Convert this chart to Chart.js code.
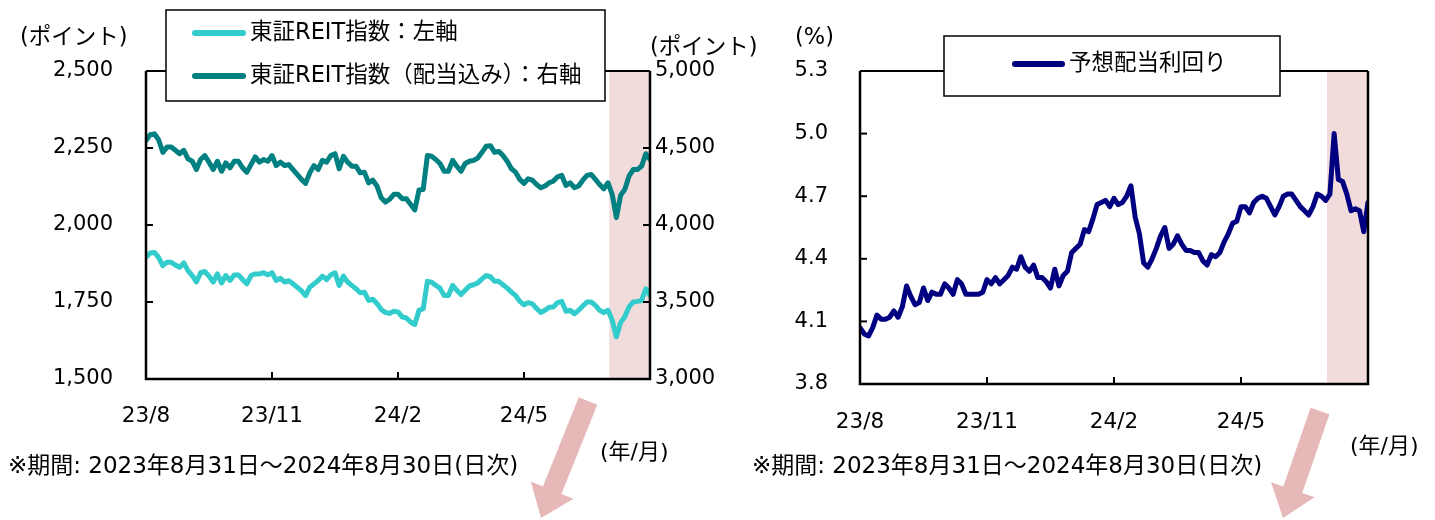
<!DOCTYPE html>
<html>
<head>
<meta charset="utf-8">
<script src="https://cdn.jsdelivr.net/npm/chart.js@4.4.1/dist/chart.umd.min.js"></script>
<style>
  body { margin: 0; background: #fff; width: 1435px; height: 520px; position: relative; overflow: hidden; }
  #left { position: absolute; left: 0; top: 0; }
  #right { position: absolute; left: 740px; top: 0; }
</style>
</head>
<body>
<canvas id="left" width="770" height="520"></canvas>
<canvas id="right" width="695" height="520"></canvas>
<script>
// x軸は2023/8/31～2024/8/30を121点で読み取り (0 = 23/8/31, 120 = 24/8/30)
const xTickPos = [0, 30, 60, 90];
const xTickLabels = ['23/8', '23/11', '24/2', '24/5'];
const shadeRange = [110.3, 120];   // 2024年8月

// 東証REIT指数（左軸）
const reitIndex = [
  1895, 1909, 1911, 1895, 1868, 1879, 1879, 1870, 1863, 1877, 1852, 1836, 1815, 1845, 1849,
  1834, 1815, 1841, 1812, 1836, 1820, 1838, 1838, 1823, 1809, 1836, 1841, 1841, 1845, 1838,
  1845, 1820, 1827, 1815, 1819, 1809, 1798, 1787, 1771, 1798, 1809, 1820, 1834, 1823, 1838,
  1845, 1804, 1834, 1815, 1804, 1793, 1780, 1782, 1755, 1759, 1745, 1726, 1716, 1713, 1720,
  1718, 1702, 1698, 1685, 1677, 1723, 1728, 1817, 1814, 1804, 1795, 1771, 1771, 1804, 1788,
  1774, 1788, 1802, 1806, 1812, 1825, 1836, 1832, 1817, 1817, 1806, 1795, 1782, 1771, 1752,
  1741, 1748, 1744, 1729, 1716, 1723, 1733, 1734, 1748, 1752, 1720, 1723, 1712, 1723, 1737,
  1750, 1750, 1739, 1723, 1716, 1723, 1691, 1637, 1683, 1702, 1734, 1750, 1752, 1755, 1793, 1771
];
// 東証REIT指数（配当込み）（右軸）
const reitTotalReturn = [
  4549, 4586, 4592, 4554, 4472, 4506, 4506, 4485, 4463, 4485, 4429, 4414, 4360, 4425, 4451,
  4408, 4360, 4414, 4349, 4403, 4371, 4414, 4414, 4371, 4343, 4392, 4442, 4408, 4425, 4414,
  4451, 4386, 4408, 4386, 4392, 4360, 4328, 4296, 4270, 4339, 4386, 4360, 4420, 4408, 4451,
  4463, 4365, 4446, 4408, 4382, 4382, 4339, 4343, 4274, 4291, 4253, 4177, 4149, 4167, 4199,
  4199, 4171, 4171, 4134, 4098, 4227, 4231, 4451, 4446, 4425, 4399, 4349, 4349, 4420, 4382,
  4349, 4399, 4414, 4420, 4435, 4472, 4511, 4515, 4472, 4478, 4451, 4414, 4365, 4343, 4296,
  4270, 4300, 4291, 4263, 4242, 4253, 4274, 4285, 4313, 4322, 4257, 4274, 4242, 4253, 4291,
  4322, 4328, 4296, 4263, 4235, 4274, 4199, 4048, 4192, 4231, 4317, 4360, 4360, 4382, 4463, 4425
];
// 予想配当利回り（%）
const dividendYield = [
  4.07, 4.04, 4.03, 4.07, 4.13, 4.11, 4.11, 4.12, 4.15, 4.12, 4.17, 4.27, 4.22, 4.18, 4.19,
  4.26, 4.20, 4.24, 4.23, 4.23, 4.28, 4.26, 4.23, 4.30, 4.28, 4.23, 4.23, 4.23, 4.23, 4.24,
  4.30, 4.28, 4.31, 4.28, 4.30, 4.32, 4.36, 4.35, 4.41, 4.36, 4.34, 4.37, 4.31, 4.31, 4.29,
  4.26, 4.35, 4.27, 4.32, 4.34, 4.43, 4.45, 4.47, 4.54, 4.53, 4.59, 4.66, 4.67, 4.68, 4.65,
  4.69, 4.66, 4.67, 4.70, 4.75, 4.60, 4.52, 4.38, 4.36, 4.40, 4.45, 4.51, 4.55, 4.45, 4.47,
  4.51, 4.47, 4.44, 4.44, 4.43, 4.43, 4.39, 4.37, 4.42, 4.41, 4.43, 4.48, 4.52, 4.57, 4.58,
  4.65, 4.65, 4.62, 4.67, 4.69, 4.70, 4.69, 4.65, 4.61, 4.65, 4.70, 4.71, 4.71, 4.68, 4.65,
  4.63, 4.61, 4.65, 4.71, 4.70, 4.68, 4.71, 5.00, 4.78, 4.77, 4.71, 4.63, 4.64, 4.63, 4.53, 4.67
];

const FONT = '"DejaVu Sans", "Noto Sans CJK JP", sans-serif';
const SHADE = 'rgb(242, 220, 219)';
const ARROW = 'rgb(230, 185, 184)';

function toPoints(arr) {
    return arr.map((v, i) => ({x: i, y: v}));
}

function line(ctx, x1, y1, x2, y2) {
    ctx.beginPath();
    ctx.moveTo(x1, y1);
    ctx.lineTo(x2, y2);
    ctx.stroke();
}

function drawArrow(ctx, x1, y1, x2, y2, shaftW, headW, headL) {
    let dx = x2 - x1, dy = y2 - y1;
    let len = Math.sqrt(dx * dx + dy * dy);
    let ux = dx / len, uy = dy / len;
    let px = -uy, py = ux;
    let bx = x2 - ux * headL, by = y2 - uy * headL;
    ctx.save();
    ctx.fillStyle = ARROW;
    ctx.beginPath();
    ctx.moveTo(x1 + px * shaftW / 2, y1 + py * shaftW / 2);
    ctx.lineTo(bx + px * shaftW / 2, by + py * shaftW / 2);
    ctx.lineTo(bx + px * headW / 2, by + py * headW / 2);
    ctx.lineTo(x2, y2);
    ctx.lineTo(bx - px * headW / 2, by - py * headW / 2);
    ctx.lineTo(bx - px * shaftW / 2, by - py * shaftW / 2);
    ctx.lineTo(x1 - px * shaftW / 2, y1 - py * shaftW / 2);
    ctx.closePath();
    ctx.fill();
    ctx.restore();
}

// 網掛け・枠線・内向き目盛・凡例・注記・矢印
function decor(cfg) {
    return {
        id: 'decor',
        beforeDatasetsDraw(chart) {
            let ctx = chart.ctx, a = chart.chartArea, x = chart.scales.x;
            let x1 = x.getPixelForValue(shadeRange[0]);
            let x2 = x.getPixelForValue(shadeRange[1]);
            ctx.save();
            ctx.fillStyle = SHADE;
            ctx.fillRect(x1, a.top, x2 - x1, a.bottom - a.top);
            ctx.restore();
        },
        afterDatasetsDraw(chart) {
            let ctx = chart.ctx, a = chart.chartArea;
            ctx.save();
            ctx.strokeStyle = '#000';
            ctx.lineWidth = 2;
            line(ctx, a.left, a.top, a.right, a.top);
            ctx.lineWidth = 2.5;
            ctx.beginPath();
            ctx.moveTo(a.left, a.top);
            ctx.lineTo(a.left, a.bottom);
            ctx.lineTo(a.right, a.bottom);
            ctx.lineTo(a.right, a.top);
            ctx.stroke();
            ctx.lineWidth = 2;
            let x = chart.scales.x;
            x.ticks.forEach(t => {
                let px = x.getPixelForValue(t.value);
                line(ctx, px, a.bottom, px, a.bottom - 7);
            });
            let y = chart.scales.y;
            y.ticks.forEach(t => {
                let py = y.getPixelForValue(t.value);
                line(ctx, a.left, py, a.left + 7, py);
            });
            if (chart.scales.y2) {
                let y2 = chart.scales.y2;
                y2.ticks.forEach(t => {
                    let py = y2.getPixelForValue(t.value);
                    line(ctx, a.right - 7, py, a.right, py);
                });
            }
            ctx.restore();
        },
        afterDraw(chart) {
            let ctx = chart.ctx;
            ctx.save();
            // 凡例
            let lg = cfg.legend;
            ctx.fillStyle = '#fff';
            ctx.fillRect(lg.x, lg.y, lg.w, lg.h);
            ctx.strokeStyle = '#000';
            ctx.lineWidth = 1.5;
            ctx.strokeRect(lg.x, lg.y, lg.w, lg.h);
            lg.items.forEach(it => {
                ctx.strokeStyle = it.color;
                ctx.lineWidth = 6;
                ctx.lineCap = 'round';
                line(ctx, lg.lx1, it.y, lg.lx2, it.y);
                ctx.fillStyle = '#000';
                ctx.font = '22.5px ' + FONT;
                ctx.textBaseline = 'middle';
                ctx.textAlign = 'left';
                ctx.fillText(it.text, lg.tx, it.y);
            });
            // 注記
            ctx.fillStyle = '#000';
            ctx.textBaseline = 'middle';
            cfg.texts.forEach(t => {
                ctx.font = t.size + 'px ' + FONT;
                ctx.textAlign = t.align || 'left';
                ctx.fillText(t.text, t.x, t.y);
            });
            ctx.restore();
            let ar = cfg.arrow;
            drawArrow(ctx, ar[0], ar[1], ar[2], ar[3], 20, 46, 30);
        }
    };
}

function xScale(h, pad) {
    return {
        type: 'linear',
        min: 0,
        max: 120,
        offset: false,
        grid: {display: false},
        border: {display: false},
        afterBuildTicks: s => { s.ticks = xTickPos.map(v => ({value: v})); },
        afterFit: s => { s.height = h; },
        ticks: {
            autoSkip: false,
            maxRotation: 0,
            padding: pad,
            color: '#000',
            font: {family: FONT, size: 21.5},
            callback: v => xTickLabels[xTickPos.indexOf(v)]
        }
    };
}

function yScale(pos, min, max, step, w, pad, fmt) {
    return {
        type: 'linear',
        position: pos,
        min: min,
        max: max,
        grid: {display: false, drawTicks: false},
        border: {display: false},
        afterFit: s => { s.width = w; },
        ticks: {
            stepSize: step,
            padding: pad,
            color: '#000',
            font: {family: FONT, size: 21},
            callback: fmt
        }
    };
}

const comma = v => v.toLocaleString('en-US');

new Chart(document.getElementById('left'), {
    type: 'line',
    data: {
        datasets: [
            {
                label: '東証REIT指数：左軸',
                data: toPoints(reitIndex),
                yAxisID: 'y',
                borderColor: 'rgb(51, 204, 204)',
                borderWidth: 5,
                pointRadius: 0,
                borderJoinStyle: 'round',
                borderCapStyle: 'round'
            },
            {
                label: '東証REIT指数（配当込み）：右軸',
                data: toPoints(reitTotalReturn),
                yAxisID: 'y2',
                borderColor: 'rgb(0, 128, 128)',
                borderWidth: 5,
                pointRadius: 0,
                borderJoinStyle: 'round',
                borderCapStyle: 'round'
            }
        ]
    },
    options: {
        responsive: false,
        animation: false,
        layout: {padding: {top: 71, left: 0, right: 0, bottom: 0}},
        plugins: {legend: {display: false}, tooltip: {enabled: false}},
        scales: {
            x: xScale(141, 17),
            y: yScale('left', 1500, 2500, 250, 146, 33, comma),
            y2: yScale('right', 3000, 5000, 500, 120, 5, comma)
        }
    },
    plugins: [decor({
        legend: {
            x: 166, y: 10, w: 439, h: 91, lx1: 195, lx2: 243, tx: 250,
            items: [
                {color: 'rgb(51, 204, 204)', y: 33, text: '東証REIT指数：左軸'},
                {color: 'rgb(0, 128, 128)', y: 76, text: '東証REIT指数（配当込み）：右軸'}
            ]
        },
        texts: [
            {text: '(ポイント)', x: 20, y: 38, size: 22.5},
            {text: '(ポイント)', x: 650, y: 48, size: 22.5},
            {text: '(年/月)', x: 600, y: 453, size: 22},
            {text: '※期間: 2023年8月31日～2024年8月30日(日次)', x: 8, y: 467, size: 23}
        ],
        arrow: [588, 401, 541, 518]
    })]
});

new Chart(document.getElementById('right'), {
    type: 'line',
    data: {
        datasets: [
            {
                label: '予想配当利回り',
                data: toPoints(dividendYield),
                yAxisID: 'y',
                borderColor: 'rgb(0, 0, 128)',
                borderWidth: 5,
                pointRadius: 0,
                borderJoinStyle: 'round',
                borderCapStyle: 'round'
            }
        ]
    },
    options: {
        responsive: false,
        animation: false,
        layout: {padding: {top: 71, left: 0, right: 67, bottom: 0}},
        plugins: {legend: {display: false}, tooltip: {enabled: false}},
        scales: {
            x: xScale(136, 18),
            y: yScale('left', 3.8, 5.3, 0.3, 120, 32, v => v.toFixed(1))
        }
    },
    plugins: [decor({
        legend: {
            x: 204, y: 36, w: 336, h: 60, lx1: 275, lx2: 322, tx: 329,
            items: [
                {color: 'rgb(0, 0, 128)', y: 64, text: '予想配当利回り'}
            ]
        },
        texts: [
            {text: '(%)', x: 55, y: 38, size: 22.5},
            {text: '(年/月)', x: 610, y: 447, size: 22},
            {text: '※期間: 2023年8月31日～2024年8月30日(日次)', x: 12, y: 467, size: 23}
        ],
        arrow: [580, 411, 543, 518]
    })]
});
</script>
</body>
</html>
